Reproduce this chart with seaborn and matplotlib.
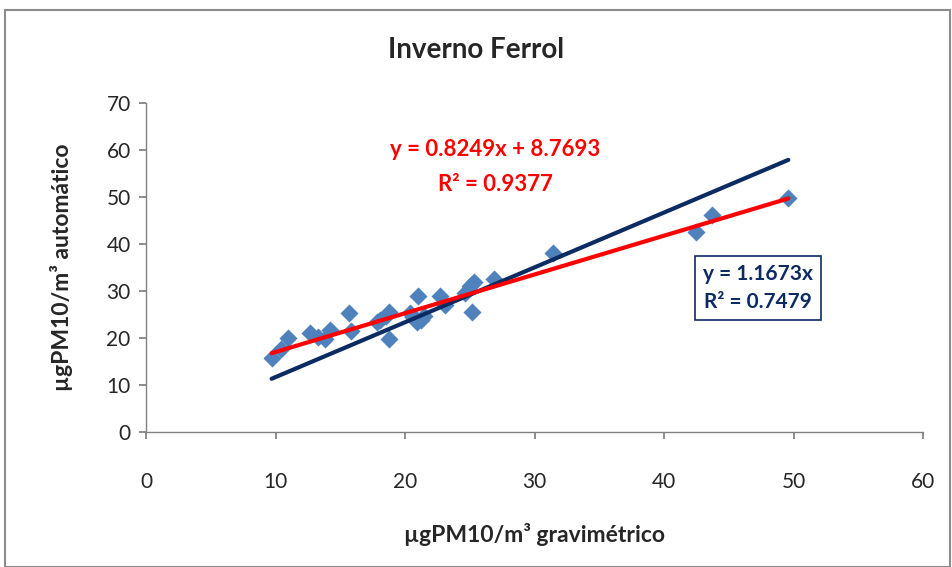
import numpy as np
import pandas as pd
import matplotlib
matplotlib.use("Agg")
import matplotlib.pyplot as plt
import seaborn as sns
from matplotlib.patches import Rectangle

grav = [9.7, 10.4, 11.0, 12.7, 13.3, 13.8, 14.2, 15.7, 15.8, 17.8, 18.1, 18.5, 18.8, 18.8,
        20.4, 20.6, 20.9, 21.0, 21.2, 21.5, 22.7, 23.1, 24.6, 25.0, 25.3, 25.2, 26.9, 31.4,
        42.5, 43.7, 49.6]
auto = [15.7, 17.7, 20.0, 21.1, 20.2, 19.8, 21.7, 25.3, 21.5, 23.4, 23.8, 24.7, 25.5, 19.8,
        25.3, 24.5, 23.4, 28.9, 23.8, 24.7, 28.9, 27.0, 29.6, 31.1, 31.9, 25.5, 32.6, 38.1,
        42.5, 46.2, 49.8]
fit_linear = [0.8249, 8.7693]   # slope, intercept (red)
fit_origin = [1.1673, 0.0]      # slope, intercept (navy)
x_ticks = [0, 10, 20, 30, 40, 50, 60]
y_ticks = [0, 10, 20, 30, 40, 50, 60, 70]

sns.set_theme(style="white")
plt.rcParams['font.family'] = ['Lato', 'DejaVu Sans']

fig = plt.figure(figsize=(9.52, 5.67), dpi=100)
ax = fig.add_axes([146/952, 1-432/567, (923-146)/952, (432-103)/567])

df = pd.DataFrame({"g": grav, "a": auto})
xs = np.array([min(grav), max(grav)])
lines = pd.DataFrame({"x": np.concatenate([xs, xs]),
                      "y": np.concatenate([fit_origin[0]*xs + fit_origin[1], fit_linear[0]*xs + fit_linear[1]]),
                      "s": ["o", "o", "l", "l"]})
sns.lineplot(data=lines, x="x", y="y", hue="s", palette={"o": "#0D2B63", "l": "#FF0000"},
             linewidth=3, legend=False, ax=ax)
sns.scatterplot(data=df, x="g", y="a", marker="D", s=85, color="#4F81BD", edgecolor="#4F81BD",
                linewidth=0, ax=ax, zorder=1)

ax.set_xlim(0, 60)
ax.set_ylim(0, 70)
ax.set_xticks(x_ticks)
ax.set_yticks(y_ticks)
ax.tick_params(axis="both", labelsize=15, length=5, direction="out", color="#808080",
               bottom=True, left=True)
ax.tick_params(axis="x", pad=24)
ax.tick_params(axis="y", pad=6)
for s in ["top", "right"]:
    ax.spines[s].set_visible(False)
for s in ["left", "bottom"]:
    ax.spines[s].set_color("#808080")
    ax.spines[s].set_linewidth(1)

ax.set_xlabel("µgPM10/m³ gravimétrico", fontsize=16.5, fontweight="bold", labelpad=22)
ax.set_ylabel("µgPM10/m³ automático", fontsize=16.5, fontweight="bold", labelpad=24)
fig.text(0.5, 1-50/567, "Inverno Ferrol", ha="center", va="center", fontsize=20, fontweight="bold")

fig.text(495/952, 1-150/567, "y = 0.8249x + 8.7693", ha="center", va="center",
         color="#FF0000", fontsize=16, fontweight="bold")
fig.text(495/952, 1-185/567, "R² = 0.9377", ha="center", va="center",
         color="#FF0000", fontsize=16, fontweight="bold")
fig.text(758/952, 1-288/567, "y = 1.1673x\nR² = 0.7479", ha="center", va="center",
         color="#0D2B63", fontsize=15, fontweight="bold", linespacing=1.45,
         bbox=dict(boxstyle="square,pad=0.4", facecolor="white", edgecolor="#0D2B63", linewidth=1.2))

fig.patches.append(Rectangle((5/952, 0), 945/952, 1-10/567, transform=fig.transFigure,
                             fill=False, edgecolor="#8C8C8C", linewidth=1.5))
fig.savefig("out.png", dpi=100)
